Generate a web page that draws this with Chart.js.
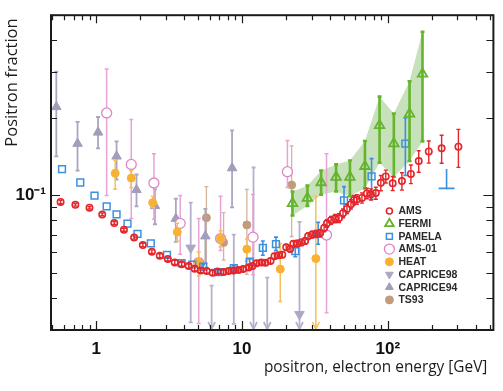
<!DOCTYPE html>
<html>
<head>
<meta charset="utf-8">
<script src="https://cdn.jsdelivr.net/npm/chart.js@4.4.0/dist/chart.umd.min.js"></script>
<style>
  html, body { margin: 0; padding: 0; background: #fff; }
  #c { display: block; }
</style>
</head>
<body>
<canvas id="c" width="503" height="391"></canvas>
<script>
// energies in GeV, values are positron fraction
var amsE = [0.57,0.72,0.90,1.10,1.33,1.55,1.82,2.09,2.41,2.73,3.10,3.46,3.86,4.31,4.74,5.21,5.73,6.29,6.80,7.48,
            8.09,8.75,9.47,10.2,11.1,11.8,12.6,13.6,14.5,15.7,16.7,17.8,18.9,20.1,21.4,22.5,23.9,25.5,27.1,28.4,
            30.3,32.3,34.4,36.6,38.3,40.8,43.5,46.3,49.3,52.5,55.9,58.6,61.4,66.5,71.9,76.6,82.8,89.6,96.9,108,
            125,144,163,191,234,305];
var amsF = [0.0942,0.0918,0.0895,0.0843,0.0780,0.0735,0.0686,0.0641,0.0604,0.0583,0.0566,0.0549,0.0540,0.0531,0.0519,0.0511,0.0508,0.0500,0.0506,0.0504,
            0.0508,0.0511,0.0513,0.0517,0.0524,0.0532,0.0545,0.0548,0.0547,0.0556,0.0580,0.0585,0.0588,0.0628,0.0619,0.0649,0.0650,0.0656,0.0665,0.0694,
            0.0704,0.0708,0.0714,0.0746,0.0778,0.0800,0.0812,0.0816,0.0852,0.0885,0.0923,0.0958,0.0964,0.0977,0.1017,0.1009,0.1020,0.1118,0.1184,0.1113,
            0.1135,0.1210,0.1358,0.1479,0.1521,0.1543];
var amsErr = [0.0015,0.001,0.001,0.001,0.001,0.001,0.001,0.001,0.001,0.001,0.001,0.001,0.001,0.001,0.001,0.001,0.001,0.001,0.001,0.001,
              0.001,0.001,0.001,0.001,0.001,0.0012,0.0012,0.0012,0.0012,0.0012,0.0014,0.0014,0.0015,0.0016,0.0016,0.0017,0.0018,0.0018,0.0019,0.002,
              0.0021,0.0022,0.0023,0.0024,0.0026,0.0028,0.003,0.0032,0.0034,0.0036,0.0038,0.004,0.0042,0.0045,0.0048,0.005,0.0055,0.0076,0.0068,0.007,
              0.0088,0.010,0.013,0.0146,0.019,0.026];

var fermiE = [22.2,28.1,34.9,44.2,55.0,69.7,87.8,110,141,173];
var fermiF = [0.0931,0.0975,0.1121,0.1177,0.1177,0.1296,0.1868,0.1587,0.2070,0.2958];
var fermiLo = [0.0835,0.0910,0.1006,0.1035,0.0992,0.1064,0.1338,0.1177,0.1358,0.1619];
var fermiHi = [0.1035,0.1090,0.1246,0.1318,0.1364,0.1624,0.2415,0.2075,0.2769,0.4311];

var pamE = [0.583,0.778,0.974,1.18,1.38,1.64,1.92,2.37,3.06,3.85,4.56,5.42,6.88,8.79,11.3,13.9,17.1,23.2,33.3,50.1,77.4,132];
var pamF = [0.1263,0.1121,0.0997,0.0905,0.0843,0.0776,0.0708,0.0651,0.0587,0.0545,0.0538,0.0528,0.0503,0.0522,0.0553,0.0625,0.0646,0.0607,0.0708,0.0956,0.1184,0.1587];
var pamLo = [null,null,null,null,null,null,null,null,null,null,null,0.0518,0.0494,0.0510,0.0540,0.0585,0.0610,0.0577,0.0646,0.0872,0.0964,0.1194];
var pamHi = [null,null,null,null,null,null,null,null,null,null,null,0.0538,0.0512,0.0534,0.0566,0.0665,0.0688,0.0637,0.0785,0.1080,0.1388,0.1995];
var pamLimE = [253];
var pamLimF = [0.1064];
var pamLimHi = [0.1257];

var a01E = [1.18,1.74,2.49,3.77,5.05,7.13,11.9,20.5,38.0];
var a01F = [0.2087,0.1318,0.1116,0.0778,0.0548,0.0679,0.0688,0.1235,0.0701];
var a01Lo = [0.0997,0.0812,0.0807,0.0590,0.0318,0.0610,0.0491,0.1071,0.0350];
var a01Hi = [0.3088,0.1967,0.1449,0.0997,0.0812,0.0992,0.1006,0.1633,0.1448];

var heatE = [1.35,1.74,2.44,3.60,5.05,7.13,10.8,18.3,32.1];
var heatF = [0.1218,0.1166,0.0936,0.0720,0.0549,0.0679,0.0618,0.0517,0.0568];
var heatLo = [0.1055,0.1071,0.0897,0.0663,0.0486,0.0630,0.0556,0.0387,0];
var heatHi = [0.1367,0.1246,0.0992,0.0778,0.0602,0.0729,0.0677,0.0650,0.0990];

var c98E = [4.45,6.19,8.79,12.0,14.9,24.8];
var c98F = [0.0625,0.025,0.0514,0.025,0.025,0.0345];
var c98Lo = [0.0321,0,0.0317,0,0,0];
var c98Hi = [0.0936,0.0446,0.0704,0.1282,0.0479,0.0789];

var c94E = [0.533,0.745,1.03,1.38,1.89,2.53,3.52,5.61,8.55];
var c94F = [0.2203,0.1587,0.1755,0.1417,0.1050,0.0910,0.0812,0.0694,0.1276];
var c94Lo = [0.1417,0.1246,0.1521,0.1150,0.0905,0.0772,0.0660,0.0545,0.0897];
var c94Hi = [0.3017,0.1928,0.2013,0.1619,0.1204,0.1055,0.0971,0.0885,0.1786];

var tsE = [5.70,7.48,10.8,21.9];
var tsF = [0.0818,0.0656,0.0767,0.1096];
var tsLo = [0.0526,0.0560,0.0493,0.0692];
var tsHi = [0.1080,0.0857,0.1055,0.1556];

var xMajor = [1, 10, 100];
var xLabels = ['1', '10', '10\u00b2'];
var xMinor = [0.5,0.6,0.7,0.8,0.9,2,3,4,5,6,7,8,9,20,30,40,50,60,70,80,90,200,300,400,500];
var yMajor = [0.1];
var yLabels = ['10\u207b\u00b9'];
var yMinor = [0.04,0.05,0.06,0.07,0.08,0.09,0.2,0.3,0.4];

function pts(xs, ys) {
    return xs.map(function (x, i) { return { x: x, y: ys[i] }; });
}

var datasets = [
    { label: 'AMS', data: pts(amsE, amsF), order: 0,
      errLo: amsF.map(function (v, i) { return v - amsErr[i]; }),
      errHi: amsF.map(function (v, i) { return v + amsErr[i]; }),
      errColor: '#e3262b', errWidth: 1.4, capW: 2,
      pointStyle: 'circle', pointRadius: 3.2, borderWidth: 1.6, borderColor: '#e3262b', backgroundColor: 'rgba(255,255,255,0)', legR: 3 },
    { label: 'FERMI', data: pts(fermiE, fermiF), order: 1, errLo: fermiLo, errHi: fermiHi,
      errColor: '#66b32e', errWidth: 2.6, capW: 2,
      pointStyle: 'triangle', pointRadius: 5.5, borderWidth: 1.8, borderColor: '#66b32e', backgroundColor: 'rgba(255,255,255,0)', legR: 5 },
    { label: 'PAMELA', data: pts(pamE, pamF), order: 2, errLo: pamLo, errHi: pamHi,
      errColor: '#3d90e0', errWidth: 1.6, capW: 2,
      pointStyle: 'rect', pointRadius: 4.8, borderWidth: 1.5, borderColor: '#3d90e0', backgroundColor: 'rgba(255,255,255,0)', legR: 4.2 },
    { label: 'AMS-01', data: pts(a01E, a01F), order: 4, errLo: a01Lo, errHi: a01Hi,
      errColor: '#e9a2d6', errWidth: 1.5, capW: 2,
      pointStyle: 'circle', pointRadius: 5, borderWidth: 1.3, borderColor: '#df86c8', backgroundColor: '#fff', legR: 5 },
    { label: 'HEAT', data: pts(heatE, heatF), order: 3, errLo: heatLo, errHi: heatHi,
      errColor: '#f7bf5c', errWidth: 1.5, capW: 2,
      pointStyle: 'circle', pointRadius: 4, borderWidth: 1, borderColor: '#f8b133', backgroundColor: '#f8b133', legR: 4 },
    { label: 'CAPRICE98', data: pts(c98E, c98F), order: 5, errLo: c98Lo, errHi: c98Hi,
      errColor: '#b4b2cb', errWidth: 1.8, capW: 2,
      pointStyle: 'triangle', rotation: 180, pointRadius: 5.5, borderWidth: 1, borderColor: '#aaa8c4', backgroundColor: '#aaa8c4', legR: 4.5 },
    { label: 'CAPRICE94', data: pts(c94E, c94F), order: 6, errLo: c94Lo, errHi: c94Hi,
      errColor: '#aaa6c2', errWidth: 1.8, capW: 2,
      pointStyle: 'triangle', pointRadius: 5.5, borderWidth: 1, borderColor: '#a19dbb', backgroundColor: '#a19dbb', legR: 4.5 },
    { label: 'TS93', data: pts(tsE, tsF), order: 7, errLo: tsLo, errHi: tsHi,
      errColor: '#d3b39b', errWidth: 1.3, capW: 2,
      pointStyle: 'circle', pointRadius: 4, borderWidth: 1, borderColor: '#c39b7c', backgroundColor: '#c39b7c', legR: 4 },
    { label: 'PAMELA limit', data: pts(pamLimE, pamLimF), order: 2, errLo: pamLimF, errHi: pamLimHi, noLegend: true,
      errColor: '#3d90e0', errWidth: 1.6, capW: 0.8,
      pointStyle: 'line', pointRadius: 8, borderWidth: 1.6, borderColor: '#3d90e0' },
    { type: 'line', label: 'band lo', data: pts(fermiE, fermiLo), order: 10, noLegend: true,
      pointRadius: 0, borderWidth: 0, borderColor: 'rgba(0,0,0,0)', tension: 0 },
    { type: 'line', label: 'band hi', data: pts(fermiE, fermiHi), order: 9, noLegend: true, fill: '-1',
      pointRadius: 0, borderWidth: 0, borderColor: 'rgba(0,0,0,0)', backgroundColor: 'rgba(122,184,92,0.42)', tension: 0 }
];

var errorBars = {
    id: 'errorBars',
    beforeDatasetDraw: function (chart, args) {
        var ds = chart.data.datasets[args.index];
        if (!ds.errLo) return;
        var ctx = chart.ctx, xs = chart.scales.x, ys = chart.scales.y, a = chart.chartArea;
        ctx.save();
        ctx.beginPath();
        ctx.rect(a.left, a.top, a.right - a.left, a.bottom - a.top);
        ctx.clip();
        ctx.strokeStyle = ds.errColor;
        ctx.lineWidth = ds.errWidth;
        ds.data.forEach(function (p, i) {
            var lo = ds.errLo[i], hi = ds.errHi[i];
            if (lo == null || hi == null) return;
            var x = xs.getPixelForValue(p.x);
            var yt = ys.getPixelForValue(hi);
            var yb = lo > 0 ? ys.getPixelForValue(lo) : a.bottom - 1;
            var c = ds.capW;
            ctx.beginPath();
            ctx.moveTo(x, yt); ctx.lineTo(x, yb);
            ctx.moveTo(x - c, yt); ctx.lineTo(x + c, yt);
            if (lo > 0) { ctx.moveTo(x - c, yb); ctx.lineTo(x + c, yb); }
            ctx.stroke();
            if (!(lo > 0)) {
                ctx.beginPath();
                ctx.moveTo(x - 3.5, yb - 7); ctx.lineTo(x, yb); ctx.lineTo(x + 3.5, yb - 7);
                ctx.stroke();
            }
        });
        ctx.restore();
    }
};

var frame = {
    id: 'frame',
    afterDatasetsDraw: function (chart) {
        var ctx = chart.ctx, a = chart.chartArea, xs = chart.scales.x, ys = chart.scales.y;
        ctx.save();
        ctx.strokeStyle = '#1b1b1b';
        ctx.lineWidth = 1.2;
        ctx.beginPath();
        function xt(v, lb, lt) {
            var x = Math.round(xs.getPixelForValue(v)) + 0.5;
            ctx.moveTo(x, a.bottom); ctx.lineTo(x, a.bottom - lb);
            ctx.moveTo(x, a.top); ctx.lineTo(x, a.top + lt);
        }
        function yt(v, ll, lr) {
            var y = Math.round(ys.getPixelForValue(v)) + 0.5;
            ctx.moveTo(a.left, y); ctx.lineTo(a.left + ll, y);
            ctx.moveTo(a.right, y); ctx.lineTo(a.right - lr, y);
        }
        xMinor.forEach(function (v) { xt(v, 5, 5); });
        xMajor.forEach(function (v) { xt(v, 9, 8); });
        yMinor.forEach(function (v) { yt(v, 6, 7); });
        yMajor.forEach(function (v) { yt(v, 9, 10); });
        ctx.stroke();
        ctx.lineWidth = 2;
        ctx.strokeRect(a.left, a.top, a.right - a.left, a.bottom - a.top);

        // axis titles
        ctx.fillStyle = '#1b1b1b';
        ctx.font = '15.4px "Open Sans"';
        ctx.textAlign = 'right';
        ctx.textBaseline = 'middle';
        ctx.fillText('positron, electron energy [GeV]', a.right - 6, 368);
        ctx.save();
        ctx.translate(12.5, 82.5);
        ctx.rotate(-Math.PI / 2);
        ctx.textAlign = 'center';
        ctx.font = '16.5px "Open Sans"';
        ctx.fillText('Positron fraction', 0, 0);
        ctx.restore();

        // legend
        var lx = a.right - 104, ly = 211;
        ctx.font = 'bold 10.5px "Liberation Sans", Arial, sans-serif';
        ctx.textAlign = 'left';
        var k = 0;
        chart.data.datasets.forEach(function (ds) {
            if (ds.noLegend) return;
            var y = ly + k * 12.7;
            ctx.strokeStyle = ds.borderColor;
            ctx.fillStyle = ds.backgroundColor;
            ctx.lineWidth = ds.borderWidth;
            Chart.helpers.drawPoint(ctx, { pointStyle: ds.pointStyle, rotation: ds.rotation || 0, radius: ds.legR, borderWidth: ds.borderWidth }, lx, y);
            ctx.fillStyle = '#2a2a2a';
            ctx.fillText(ds.label, lx + 9, y + 0.5);
            k++;
        });
        ctx.restore();
    }
};

new Chart(document.getElementById('c'), {
    type: 'scatter',
    data: { datasets: datasets },
    plugins: [errorBars, frame],
    options: {
        responsive: false,
        animation: false,
        devicePixelRatio: 1,
        layout: { padding: { top: 2, right: 8, left: 0, bottom: 0 } },
        plugins: { legend: { display: false }, tooltip: { enabled: false } },
        scales: {
            x: {
                type: 'logarithmic', min: 0.49, max: 530,
                grid: { display: false, drawTicks: false },
                border: { display: false },
                afterBuildTicks: function (s) { s.ticks = xMajor.map(function (v) { return { value: v }; }); },
                afterFit: function (s) { s.height = 61; },
                ticks: {
                    autoSkip: false, maxRotation: 0, padding: 9, color: '#111',
                    font: { family: '"Liberation Sans", Arial, sans-serif', size: 17, weight: 'bold' },
                    callback: function (v, i) { return xLabels[i]; }
                }
            },
            y: {
                type: 'logarithmic', min: 0.03, max: 0.5,
                grid: { display: false, drawTicks: false },
                border: { display: false },
                afterBuildTicks: function (s) { s.ticks = yMajor.map(function (v) { return { value: v }; }); },
                afterFit: function (s) { s.width = 51; },
                ticks: {
                    autoSkip: false, padding: 5, color: '#111',
                    font: { family: '"Liberation Sans", Arial, sans-serif', size: 17, weight: 'bold' },
                    callback: function (v, i) { return yLabels[i]; }
                }
            }
        }
    }
});
</script>
</body>
</html>
